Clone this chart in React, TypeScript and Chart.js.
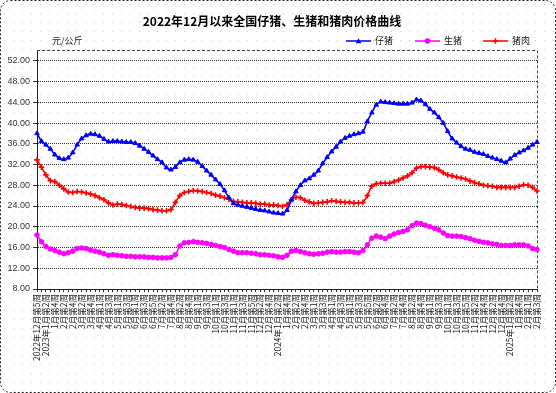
import React, { useEffect, useRef } from "react";
import { Chart, registerables } from "chart.js";

Chart.register(...registerables);

const TITLE = "2022年12月以来全国仔猪、生猪和猪肉价格曲线";
const UNIT = "元/公斤";
const FONT_CJK = '"Noto Sans CJK SC", "Liberation Sans", sans-serif';
const FONT_NUM = '"Liberation Sans", Arial, sans-serif';

const weeks: string[] = [
  "2022年12月第5周", "2023年1月第1周", "2023年1月第2周", "1月第3周", "1月第4周", "2月第1周", "2月第2周", "2月第3周", "2月第4周", "3月第1周",
  "3月第2周", "3月第3周", "3月第4周", "3月第5周", "4月第1周", "4月第2周", "4月第3周", "4月第4周", "5月第1周", "5月第2周",
  "5月第3周", "5月第4周", "6月第1周", "6月第2周", "6月第3周", "6月第4周", "6月第5周", "7月第1周", "7月第2周", "7月第3周",
  "7月第4周", "8月第1周", "8月第2周", "8月第3周", "8月第4周", "8月第5周", "9月第1周", "9月第2周", "9月第3周", "9月第4周",
  "10月第1周", "10月第2周", "10月第3周", "10月第4周", "11月第1周", "11月第2周", "11月第3周", "11月第4周", "11月第5周", "12月第1周",
  "12月第2周", "12月第3周", "12月第4周", "2024年1月第1周", "2024年1月第2周", "1月第3周", "1月第4周", "2月第1周", "2月第2周", "2月第3周",
  "2月第4周", "2月第5周", "3月第1周", "3月第2周", "3月第3周", "3月第4周", "4月第1周", "4月第2周", "4月第3周", "4月第4周",
  "5月第1周", "5月第2周", "5月第3周", "5月第4周", "5月第5周", "6月第1周", "6月第2周", "6月第3周", "6月第4周", "7月第1周",
  "7月第2周", "7月第3周", "7月第4周", "8月第1周", "8月第2周", "8月第3周", "8月第4周", "8月第5周", "9月第1周", "9月第2周",
  "9月第3周", "9月第4周", "10月第1周", "10月第2周", "10月第3周", "10月第4周", "10月第5周", "11月第1周", "11月第2周", "11月第3周",
  "11月第4周", "12月第1周", "12月第2周", "12月第3周", "12月第4周", "2025年1月第1周", "2025年1月第2周", "1月第3周", "1月第4周", "1月第5周",
  "2月第1周", "2月第2周", "2月第3周",
];

// 仔猪
const pigletPrice: number[] = [
  38.0, 36.5, 35.8, 35.0, 33.9, 33.2, 33.0, 33.3, 34.3, 35.8,
  37.0, 37.6, 37.9, 37.8, 37.5, 36.9, 36.4, 36.5, 36.5, 36.4,
  36.3, 36.3, 36.1, 35.6, 35.0, 34.4, 33.7, 33.0, 32.4, 31.4,
  31.0, 31.5, 32.4, 32.9, 33.0, 32.9, 32.5, 31.7, 30.8, 30.0,
  29.1, 28.2, 27.0, 25.6, 24.5, 24.2, 24.0, 23.8, 23.6, 23.4,
  23.2, 23.1, 22.9, 22.7, 22.6, 22.5, 23.2, 25.2, 26.8, 28.0,
  28.9, 29.3, 30.0, 30.8, 32.2, 33.4, 34.5, 35.4, 36.4, 37.1,
  37.5, 37.8, 38.0, 38.3, 40.3, 42.0, 43.5, 44.1, 44.0, 43.9,
  43.8, 43.7, 43.7, 43.7, 43.9, 44.5, 44.3, 43.6, 42.7, 42.0,
  41.1, 40.0, 38.4, 37.0, 36.2, 35.5, 35.0, 34.8, 34.4, 34.2,
  34.0, 33.6, 33.3, 33.0, 32.7, 32.4, 33.1, 33.8, 34.3, 34.7,
  35.2, 35.8, 36.3,
];

// 生猪
const hogPrice: number[] = [
  18.4, 17.1, 16.2, 15.7, 15.4, 15.1, 14.8, 15.0, 15.3, 15.8,
  15.9, 15.8, 15.5, 15.3, 15.1, 14.8, 14.5, 14.6, 14.5, 14.4,
  14.3, 14.3, 14.2, 14.2, 14.2, 14.1, 14.1, 14.0, 14.0, 14.0,
  14.1, 14.6, 16.3, 16.9, 17.0, 17.1, 17.0, 16.9, 16.8, 16.6,
  16.4, 16.2, 16.0, 15.6, 15.3, 15.0, 15.0, 15.0, 14.9, 14.8,
  14.6, 14.6, 14.5, 14.4, 14.2, 14.1, 14.5, 15.3, 15.4, 15.2,
  15.0, 14.8, 14.7, 14.8, 14.9, 15.1, 15.2, 15.1, 15.1, 15.2,
  15.2, 15.1, 15.0, 15.4, 16.5, 17.8, 18.2, 18.0, 17.7, 18.2,
  18.6, 18.9, 19.1, 19.4, 20.2, 20.7, 20.6, 20.3, 20.0, 19.7,
  19.4, 18.8, 18.3, 18.2, 18.2, 18.1, 17.9, 17.7, 17.4, 17.2,
  17.0, 16.9, 16.7, 16.6, 16.4, 16.4, 16.4, 16.5, 16.5, 16.5,
  16.3, 15.8, 15.6,
];

// 猪肉
const porkPrice: number[] = [
  32.9, 31.5, 30.0, 28.9, 28.7, 28.0, 27.3, 26.7, 26.6, 26.8,
  26.7, 26.5, 26.3, 26.0, 25.6, 25.2, 24.6, 24.2, 24.4, 24.3,
  24.1, 23.9, 23.7, 23.6, 23.6, 23.5, 23.3, 23.2, 23.1, 23.1,
  23.3, 24.7, 26.0, 26.6, 26.8, 27.0, 26.9, 26.8, 26.6, 26.4,
  26.1, 25.9, 25.6, 25.3, 24.9, 24.8, 24.7, 24.6, 24.6, 24.5,
  24.4, 24.4, 24.2, 24.2, 24.1, 23.9, 24.3, 25.2, 25.7, 25.6,
  25.1, 24.8, 24.5, 24.6, 24.7, 24.8, 25.0, 24.9, 24.8, 24.7,
  24.7, 24.6, 24.6, 24.7, 26.0, 27.8, 28.3, 28.4, 28.4, 28.4,
  28.7, 29.0, 29.4, 29.8, 30.4, 31.3, 31.6, 31.6, 31.5, 31.4,
  31.0, 30.4, 30.0, 29.8, 29.6, 29.4, 29.2, 28.8, 28.5, 28.3,
  28.0, 27.9, 27.8, 27.6, 27.6, 27.6, 27.6, 27.6, 27.8, 28.1,
  28.0, 27.6, 26.9,
];

const Y_MIN = 8;
const Y_MAX = 54;
const Y_STEP = 4;

function roundRectPath(ctx: CanvasRenderingContext2D, x: number, y: number, w: number, h: number, r: number) {
  ctx.beginPath();
  ctx.moveTo(x + r, y);
  ctx.lineTo(x + w - r, y);
  ctx.arcTo(x + w, y, x + w, y + r, r);
  ctx.lineTo(x + w, y + h - r);
  ctx.arcTo(x + w, y + h, x + w - r, y + h, r);
  ctx.lineTo(x + r, y + h);
  ctx.arcTo(x, y + h, x, y + h - r, r);
  ctx.lineTo(x, y + r);
  ctx.arcTo(x, y, x + r, y, r);
  ctx.closePath();
}

function drawMarker(ctx: CanvasRenderingContext2D, style: string, x: number, y: number, r: number, color: string) {
  ctx.save();
  ctx.fillStyle = color;
  ctx.strokeStyle = color;
  ctx.setLineDash([]);
  if (style === "triangle") {
    ctx.beginPath();
    ctx.moveTo(x, y - r);
    ctx.lineTo(x + r, y + r * 0.8);
    ctx.lineTo(x - r, y + r * 0.8);
    ctx.closePath();
    ctx.fill();
  } else if (style === "circle") {
    ctx.beginPath();
    ctx.arc(x, y, r, 0, Math.PI * 2);
    ctx.fill();
  } else {
    ctx.lineWidth = 1.5;
    ctx.beginPath();
    ctx.moveTo(x - r, y);
    ctx.lineTo(x + r, y);
    ctx.moveTo(x, y - r);
    ctx.lineTo(x, y + r);
    ctx.stroke();
  }
  ctx.restore();
}

const backgroundPlugin = {
  id: "bgDots",
  beforeDraw(chart: any) {
    const { ctx, width, height } = chart;
    ctx.save();
    ctx.fillStyle = "#ffffff";
    ctx.fillRect(0, 0, width, height);
    ctx.fillStyle = "#c8c8c8";
    for (let y = 4; y < height; y += 9) {
      for (let x = 4; x < width; x += 9) ctx.fillRect(x, y, 1, 1);
    }
    ctx.strokeStyle = "#222";
    ctx.lineWidth = 1;
    ctx.setLineDash([2, 2]);
    roundRectPath(ctx, 0.5, 0.5, width - 1, height - 1, 10);
    ctx.stroke();
    ctx.restore();
  },
  beforeDatasetsDraw(chart: any) {
    const { ctx, chartArea } = chart;
    ctx.save();
    ctx.strokeStyle = "#444";
    ctx.lineWidth = 1;
    ctx.setLineDash([3, 2]);
    ctx.beginPath();
    ctx.moveTo(chartArea.left, Math.round(chartArea.top) + 0.5);
    ctx.lineTo(chartArea.right, Math.round(chartArea.top) + 0.5);
    ctx.moveTo(Math.round(chartArea.right) + 0.5, chartArea.top);
    ctx.lineTo(Math.round(chartArea.right) + 0.5, chartArea.bottom);
    ctx.stroke();
    ctx.restore();
  },
  afterDraw(chart: any) {
    const { ctx } = chart;
    ctx.save();
    ctx.fillStyle = "#222";
    ctx.font = `9px ${FONT_CJK}`;
    ctx.textBaseline = "middle";
    ctx.textAlign = "left";
    ctx.fillText(UNIT, 52, 41);
    const starts = [346, 415, 483];
    chart.data.datasets.forEach((ds: any, i: number) => {
      const x0 = starts[i];
      const y = 41;
      ctx.strokeStyle = ds.borderColor;
      ctx.lineWidth = 1.5;
      ctx.setLineDash([]);
      ctx.beginPath();
      ctx.moveTo(x0, y);
      ctx.lineTo(x0 + 25, y);
      ctx.stroke();
      drawMarker(ctx, ds.pointStyle, x0 + 12.5, y, 2.8, ds.borderColor);
      ctx.fillStyle = "#111";
      ctx.font = `9px ${FONT_CJK}`;
      ctx.fillText(ds.label, x0 + 29, y);
    });
    ctx.restore();
  },
};

export default function App() {
  const ref = useRef<HTMLCanvasElement>(null);

  useEffect(() => {
    if (!ref.current) return;
    const chart = new Chart(ref.current, {
      type: "line",
      data: {
        labels: weeks,
        datasets: [
          {
            label: "仔猪",
            data: pigletPrice,
            borderColor: "#0000ff",
            backgroundColor: "#0000ff",
            pointStyle: "triangle",
            pointRadius: 2.6,
            pointBorderWidth: 1,
            borderWidth: 1.6,
            tension: 0.3,
          },
          {
            label: "生猪",
            data: hogPrice,
            borderColor: "#ff00ff",
            backgroundColor: "#ff00ff",
            pointStyle: "circle",
            pointRadius: 2.3,
            pointBorderWidth: 1,
            borderWidth: 1.6,
            tension: 0.3,
          },
          {
            label: "猪肉",
            data: porkPrice,
            borderColor: "#ff0000",
            backgroundColor: "#ff0000",
            pointStyle: "cross",
            pointRadius: 2.8,
            pointBorderWidth: 1.6,
            borderWidth: 1.6,
            tension: 0.3,
          },
        ],
      },
      options: {
        animation: false,
        responsive: false,
        devicePixelRatio: 1,
        layout: { padding: { left: 7, right: 19, top: 0, bottom: 0 } },
        plugins: {
          legend: { display: false },
          tooltip: { enabled: false },
          title: {
            display: true,
            text: TITLE,
            color: "#000",
            font: { family: FONT_CJK, size: 12, weight: "bold" },
            padding: { top: 14, bottom: 22 },
          },
        },
        scales: {
          x: {
            grid: { display: true, drawOnChartArea: false, drawTicks: true, tickLength: 3, color: "#333" },
            border: { display: true, color: "#222", width: 1 },
            ticks: {
              autoSkip: false,
              minRotation: 90,
              maxRotation: 90,
              padding: 2,
              color: "#222",
              font: { family: FONT_CJK, size: 8.5 },
              callback: function (this: any, v: any, i: number) {
                return i % 2 === 0 ? this.getLabelForValue(v) : "";
              },
            },
            afterFit: (s: any) => {
              s.height = 104;
            },
          },
          y: {
            min: Y_MIN,
            max: Y_MAX,
            grid: { color: "#333", lineWidth: 1, tickLength: 4 },
            border: { display: true, color: "#222", width: 1, dash: [1, 1] },
            ticks: {
              stepSize: Y_STEP,
              includeBounds: false,
              padding: 3,
              color: "#333",
              font: { family: FONT_NUM, size: 9 },
              callback: (v: any) => Number(v).toFixed(2),
            },
            afterFit: (s: any) => {
              s.width = 30;
            },
          },
        },
      },
      plugins: [backgroundPlugin],
    } as any);
    return () => chart.destroy();
  }, []);

  return (
    <div style={{ position: "absolute", left: 0, top: 0, width: 556, height: 393 }}>
      <canvas ref={ref} width={556} height={393} style={{ display: "block", width: 556, height: 393 }} />
    </div>
  );
}
